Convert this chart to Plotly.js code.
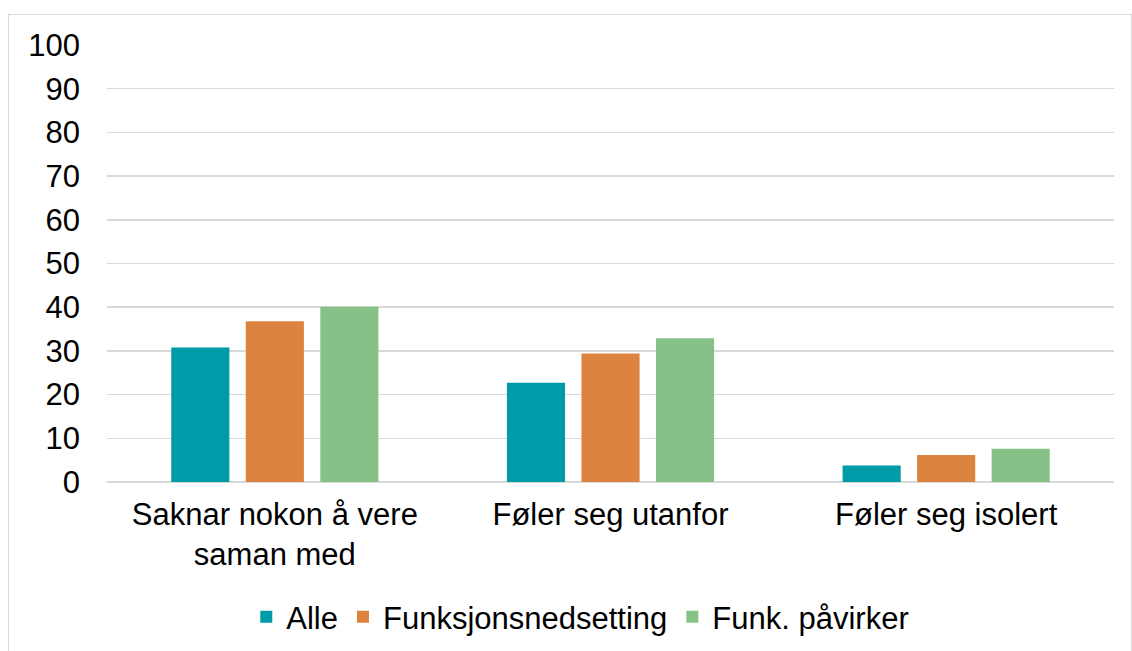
<!DOCTYPE html>
<html>
<head>
<meta charset="utf-8">
<script src="https://cdn.plot.ly/plotly-3.0.1.min.js"></script>
<style>
    body { margin: 0; background: #fff; }
    #wrap { position: relative; width: 1132px; height: 651px; }
    #frame { position: absolute; left: 8px; top: 14px; width: 1122px; height: 650px; border: 1px solid #d9d9d9; pointer-events: none; }
    #chart { position: absolute; left: 0; top: 0; width: 1132px; height: 651px; }
</style>
</head>
<body>
<div id="wrap">
    <div id="chart"></div>
    <div id="frame"></div>
</div>
<script>
// kategoriar og verdiar lest av figuren
const categories = ['Saknar nokon å vere<br>saman med', 'Føler seg utanfor', 'Føler seg isolert'];
const alle = [30.8, 22.7, 3.8];
const funksjonsnedsetting = [36.8, 29.4, 6.2];
const funkPaavirker = [40.1, 32.9, 7.6];
const yTicks = [0, 10, 20, 30, 40, 50, 60, 70, 80, 90, 100];

const fontFamily = '"Liberation Sans", Arial, sans-serif';

function makeBar(name, values, color) {
    return {
        x: categories,
        y: values,
        type: 'bar',
        name: name,
        marker: { color: color },
        hoverinfo: 'y+name'
    };
}

const data = [
    makeBar('Alle', alle, '#009ba9'),
    makeBar('Funksjonsnedsetting', funksjonsnedsetting, '#dc843f'),
    makeBar('Funk. påvirker', funkPaavirker, '#86c288')
];

const layout = {
    width: 1132,
    height: 651,
    margin: { l: 107, r: 18, t: 45, b: 169, autoexpand: false },
    paper_bgcolor: 'rgba(0,0,0,0)',
    plot_bgcolor: '#fff',
    font: { family: fontFamily, size: 31, color: '#000' },
    barmode: 'group',
    bargap: 0.334,
    bargroupgap: 0.22,
    xaxis: {
        showgrid: false,
        showline: false,
        ticks: '',
        ticklabelstandoff: 11,
        automargin: false,
        tickfont: { size: 31 }
    },
    yaxis: {
        range: [0, 100],
        tickvals: yTicks,
        showgrid: true,
        gridcolor: '#d9d9d9',
        gridwidth: 1.5,
        zeroline: true,
        zerolinecolor: '#d9d9d9',
        zerolinewidth: 1.5,
        showline: false,
        ticks: '',
        ticklabelstandoff: 26,
        automargin: false,
        tickfont: { size: 31 }
    },
    showlegend: true,
    legend: {
        orientation: 'h',
        x: 0.47,
        xanchor: 'center',
        y: -0.309,
        yanchor: 'middle',
        font: { size: 31 },
        itemwidth: 30,
        traceorder: 'normal'
    }
};

Plotly.newPlot('chart', data, layout, { displayModeBar: false, staticPlot: true });
</script>
</body>
</html>
